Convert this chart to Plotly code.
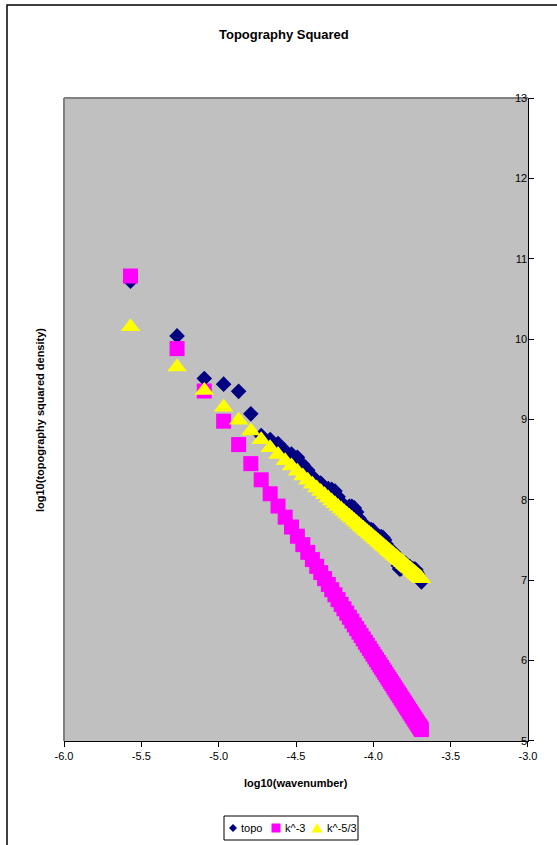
import plotly.graph_objects as go

# log10(wavenumber) for the 76 points
log_k = [-5.570, -5.269, -5.093, -4.968, -4.871, -4.792, -4.725, -4.667, -4.616, -4.570,
         -4.529, -4.491, -4.456, -4.424, -4.394, -4.366, -4.340, -4.315, -4.291, -4.269,
         -4.248, -4.228, -4.208, -4.190, -4.172, -4.155, -4.139, -4.123, -4.108, -4.093,
         -4.079, -4.065, -4.051, -4.039, -4.026, -4.014, -4.002, -3.990, -3.979, -3.968,
         -3.957, -3.947, -3.937, -3.927, -3.917, -3.907, -3.898, -3.889, -3.880, -3.871,
         -3.862, -3.854, -3.846, -3.838, -3.830, -3.822, -3.814, -3.807, -3.799, -3.792,
         -3.785, -3.778, -3.771, -3.764, -3.757, -3.750, -3.744, -3.737, -3.731, -3.725,
         -3.719, -3.713, -3.707, -3.701, -3.695, -3.689]

topo = [10.72, 10.04, 9.51, 9.44, 9.35, 9.07, 8.80, 8.75, 8.70, 8.61,
        8.57, 8.53, 8.44, 8.37, 8.29, 8.23, 8.21, 8.15, 8.14, 8.13,
        8.11, 8.04, 7.97, 7.92, 7.90, 7.92, 7.92, 7.90, 7.85, 7.77,
        7.72, 7.69, 7.68, 7.63, 7.63, 7.63, 7.62, 7.58, 7.54, 7.54,
        7.54, 7.54, 7.53, 7.50, 7.45, 7.40, 7.37, 7.33, 7.35, 7.35,
        7.33, 7.29, 7.23, 7.18, 7.14, 7.14, 7.17, 7.20, 7.21, 7.21,
        7.18, 7.15, 7.17, 7.17, 7.13, 7.14, 7.14, 7.14, 7.14, 7.13,
        7.10, 7.07, 7.04, 7.02, 7.00, 6.98]

k_minus3 = [10.785, 9.882, 9.354, 8.979, 8.688, 8.451, 8.250, 8.076, 7.923, 7.785,
            7.662, 7.548, 7.443, 7.347, 7.257, 7.173, 7.095, 7.020, 6.948, 6.882,
            6.819, 6.759, 6.699, 6.645, 6.591, 6.540, 6.492, 6.444, 6.399, 6.354,
            6.312, 6.270, 6.228, 6.192, 6.153, 6.117, 6.081, 6.045, 6.012, 5.979,
            5.946, 5.916, 5.886, 5.856, 5.826, 5.796, 5.769, 5.742, 5.715, 5.688,
            5.661, 5.637, 5.613, 5.589, 5.565, 5.541, 5.517, 5.496, 5.472, 5.451,
            5.430, 5.409, 5.388, 5.367, 5.346, 5.325, 5.307, 5.286, 5.268, 5.250,
            5.232, 5.214, 5.196, 5.178, 5.160, 5.142]

k_minus53 = [10.155, 9.653, 9.360, 9.152, 8.990, 8.858, 8.747, 8.650, 8.565, 8.488,
             8.420, 8.357, 8.298, 8.245, 8.195, 8.148, 8.105, 8.063, 8.023, 7.987,
             7.952, 7.918, 7.885, 7.855, 7.825, 7.797, 7.770, 7.743, 7.718, 7.693,
             7.670, 7.647, 7.623, 7.603, 7.582, 7.562, 7.542, 7.522, 7.503, 7.485,
             7.467, 7.450, 7.433, 7.417, 7.400, 7.383, 7.368, 7.353, 7.338, 7.323,
             7.308, 7.295, 7.282, 7.268, 7.255, 7.242, 7.228, 7.217, 7.203, 7.192,
             7.180, 7.168, 7.157, 7.145, 7.133, 7.122, 7.112, 7.100, 7.090, 7.080,
             7.070, 7.060, 7.050, 7.040, 7.030, 7.020]

series_names = ["topo", "k^-3", "k^-5/3"]
series_colors = ["#000080", "#FF00FF", "#FFFF00"]

x_tick_vals = [-6.0, -5.5, -5.0, -4.5, -4.0, -3.5, -3.0]
x_tick_text = ["-6.0", "-5.5", "-5.0", "-4.5", "-4.0", "-3.5", "-3.0"]
y_tick_vals = [5, 6, 7, 8, 9, 10, 11, 12, 13]
y_tick_text = ["5", "6", "7", "8", "9", "10", "11", "12", "13"]

FONT = "Arial, Liberation Sans, sans-serif"

fig = go.Figure()
fig.add_trace(go.Scatter(x=log_k, y=topo, mode="markers", name=series_names[0],
                         marker=dict(symbol="diamond", size=12, color=series_colors[0])))
fig.add_trace(go.Scatter(x=log_k, y=k_minus3, mode="markers", name=series_names[1],
                         marker=dict(symbol="square", size=15, color=series_colors[1])))
fig.add_trace(go.Scatter(x=log_k, y=k_minus53, mode="markers", name=series_names[2],
                         marker=dict(symbol="triangle-up", size=17, color=series_colors[2])))

L, R, T, B = 64, 29, 98, 104
W, H = 557, 845
pw, ph = W - L - R, H - T - B

def px(xpix):
    return (xpix - L) / pw

def py(ypix):
    return 1 - (ypix - T) / ph

# ---- compact Excel-style legend (box, symbols, labels) ----
leg_y = 828
leg_shapes = [
    dict(type="rect", xref="paper", yref="paper",
         x0=px(224), x1=px(358), y0=py(840), y1=py(816),
         line=dict(color="black", width=1), fillcolor="white"),
]
# diamond
cx = 233
leg_shapes.append(dict(type="path", xref="paper", yref="paper",
    path=f"M {px(cx-4)},{py(leg_y)} L {px(cx)},{py(leg_y-4)} L {px(cx+4)},{py(leg_y)} "
         f"L {px(cx)},{py(leg_y+4)} Z",
    fillcolor=series_colors[0], line=dict(width=0)))
# square
cx = 276
leg_shapes.append(dict(type="rect", xref="paper", yref="paper",
    x0=px(cx-4.5), x1=px(cx+4.5), y0=py(leg_y+4.5), y1=py(leg_y-4.5),
    fillcolor=series_colors[1], line=dict(width=0)))
# triangle
cx = 317
leg_shapes.append(dict(type="path", xref="paper", yref="paper",
    path=f"M {px(cx-5.5)},{py(leg_y+4.5)} L {px(cx)},{py(leg_y-5)} L {px(cx+5.5)},{py(leg_y+4.5)} Z",
    fillcolor=series_colors[2], line=dict(width=0)))

leg_text_x = [239, 283, 325]
leg_annots = [
    dict(text=series_names[i], xref="paper", yref="paper", x=px(leg_text_x[i]), y=py(leg_y),
         xanchor="left", yanchor="middle", showarrow=False,
         font=dict(family=FONT, size=11, color="black"))
    for i in range(3)
]

fig.update_layout(
    template="none",
    width=W, height=H,
    margin=dict(l=L, r=R, t=T, b=B, autoexpand=False),
    paper_bgcolor="white",
    plot_bgcolor="#C0C0C0",
    font=dict(family=FONT, size=11, color="black"),
    showlegend=False,
    xaxis=dict(range=[-6.0001, -2.9999], tickvals=x_tick_vals, ticktext=x_tick_text,
               showgrid=False, zeroline=False, showline=True, linecolor="black",
               linewidth=1, ticks="outside", ticklen=5, tickcolor="black",
               tickfont=dict(family=FONT, size=11, color="black")),
    yaxis=dict(range=[4.9999, 13.0001], tickvals=y_tick_vals, ticktext=y_tick_text,
               side="right", ticklabelposition="inside", ticklabeloverflow="allow",
               showgrid=False, zeroline=False, showline=True, linecolor="black",
               linewidth=1, ticks="outside", ticklen=5, tickcolor="black",
               tickfont=dict(family=FONT, size=11, color="black")),
    shapes=[
        # outer chart-area border
        dict(type="rect", xref="paper", yref="paper",
             x0=px(7), x1=px(600), y0=py(900), y1=py(5),
             line=dict(color="black", width=1.5), fillcolor="rgba(0,0,0,0)", layer="below"),
        # grey plot-area border on top and left
        dict(type="line", xref="paper", yref="paper", x0=0, x1=1, y0=1, y1=1,
             line=dict(color="#808080", width=2), layer="below"),
        dict(type="line", xref="paper", yref="paper", x0=0, x1=0, y0=0, y1=1,
             line=dict(color="#808080", width=2), layer="below"),
    ] + leg_shapes,
    annotations=[
        dict(text="<b>Topography Squared</b>", xref="paper", yref="paper",
             x=px(284), y=py(35), xanchor="center", yanchor="middle",
             showarrow=False, font=dict(family=FONT, size=13)),
        dict(text="<b>log10(wavenumber)</b>", xref="paper", yref="paper",
             x=px(296), y=py(783), xanchor="center", yanchor="middle",
             showarrow=False, font=dict(family=FONT, size=11)),
        dict(text="<b>log10(topography squared density)</b>", xref="paper", yref="paper",
             x=px(40), y=py(420), xanchor="center", yanchor="middle", textangle=-90,
             showarrow=False, font=dict(family=FONT, size=11)),
    ] + leg_annots,
)

fig.write_html("out.html")
